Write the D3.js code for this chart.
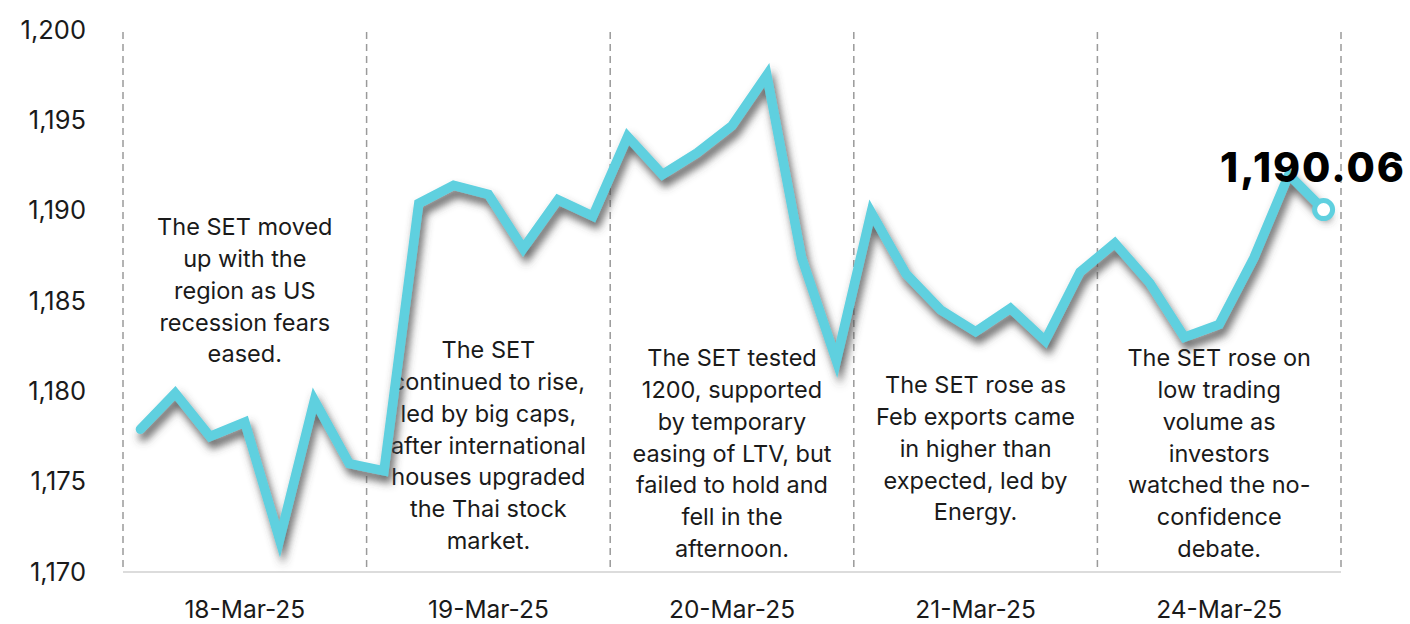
<!DOCTYPE html>
<html>
<head>
<meta charset="utf-8">
<script src="https://cdn.jsdelivr.net/npm/d3@7"></script>
<style>
  html, body { margin: 0; padding: 0; background: #fff; }
  svg { display: block; }
  text { font-family: Inter, "Noto Sans", sans-serif; fill: #1a1a1a; }
</style>
</head>
<body>
<svg id="chart" width="1410" height="624"></svg>
<script>
// ---- data ----
const days = ["18-Mar-25", "19-Mar-25", "20-Mar-25", "21-Mar-25", "24-Mar-25"];
const values = [
  1177.9, 1179.9, 1177.5, 1178.3, 1171.8, 1179.5, 1176.0,
  1175.6, 1190.4, 1191.4, 1190.9, 1187.9, 1190.6, 1189.7,
  1194.1, 1192.0, 1193.2, 1194.7, 1197.5, 1187.4, 1181.7,
  1189.9, 1186.5, 1184.5, 1183.3, 1184.6, 1182.8, 1186.6,
  1188.2, 1186.0, 1183.0, 1183.7, 1187.4, 1192.0, 1190.06
];
const yTicks = [1170, 1175, 1180, 1185, 1190, 1195, 1200];
const notes = [
  ["The SET moved", "up with the", "region as US", "recession fears", "eased."],
  ["The SET", "continued to rise,", "led by big caps,", "after international", "houses upgraded", "the Thai stock", "market."],
  ["The SET tested", "1200, supported", "by temporary", "easing of LTV, but", "failed to hold and", "fell in the", "afternoon."],
  ["The SET rose as", "Feb exports came", "in higher than", "expected, led by", "Energy."],
  ["The SET rose on", "low trading", "volume as", "investors", "watched the no-", "confidence", "debate."]
];
const lastLabel = "1,190.06";

// ---- layout ----
const M = { left: 123, right: 1341, top: 30, bottom: 572 };
const noteTop = [227, 350, 358, 385, 358];
const lineH = 31.8;

const svg = d3.select("#chart");

const xBand = d3.scaleBand().domain(days).range([M.left, M.right]);
const xIdx = d3.scaleLinear().domain([0, values.length]).range([M.left, M.right]);
const y = d3.scaleLinear().domain([1170, 1200]).range([M.bottom, M.top]);

// shadow filter
const defs = svg.append("defs");
const f = defs.append("filter").attr("id", "shadow")
  .attr("x", "-10%").attr("y", "-10%").attr("width", "120%").attr("height", "130%");
f.append("feDropShadow").attr("dx", 3).attr("dy", 7).attr("stdDeviation", 4.5)
  .attr("flood-color", "#4a4a4a").attr("flood-opacity", 0.85);

// baseline
svg.append("line")
  .attr("x1", M.left).attr("x2", M.right).attr("y1", y(1170)).attr("y2", y(1170))
  .attr("stroke", "#dcdcdc").attr("stroke-width", 2);

// dashed separators
const seps = days.map(d => xBand(d)).concat([M.right]);
svg.append("g").selectAll("line").data(seps).join("line")
  .attr("x1", d => d).attr("x2", d => d)
  .attr("y1", M.top + 2).attr("y2", y(1170))
  .attr("stroke", "#9a9a9a").attr("stroke-width", 1.5)
  .attr("stroke-dasharray", "7,5");

// y axis labels
const yAxis = d3.axisLeft(y).tickValues(yTicks).tickFormat(d3.format(",")).tickSize(0).tickPadding(0);
const yg = svg.append("g").attr("transform", `translate(${86},0)`).call(yAxis);
yg.select(".domain").remove();
yg.selectAll("text").attr("font-size", 25.5).attr("fill", "#1a1a1a")
  .style("font-family", "Inter, 'Noto Sans', sans-serif");

// x axis labels
const xAxis = d3.axisBottom(xBand).tickSize(0).tickPadding(0);
const xg = svg.append("g").attr("transform", `translate(0,${601})`).call(xAxis);
xg.select(".domain").remove();
xg.selectAll("text").attr("font-size", 24.5).attr("fill", "#1a1a1a")
  .style("font-family", "Inter, 'Noto Sans', sans-serif");

// notes
notes.forEach((lines, i) => {
  const cx = xBand(days[i]) + xBand.bandwidth() / 2;
  const t = svg.append("text").attr("text-anchor", "middle").attr("font-size", 23.5);
  lines.forEach((ln, j) => {
    t.append("tspan").attr("x", cx).attr("y", noteTop[i] + j * lineH)
      .attr("dy", "0.35em").text(ln);
  });
});

// line
const line = d3.line().x((d, i) => xIdx(i + 0.5)).y(d => y(d)).curve(d3.curveLinear);
svg.append("path").datum(values)
  .attr("d", line)
  .attr("fill", "none").attr("stroke", "#5fd0df").attr("stroke-width", 9.5)
  .attr("stroke-linejoin", "miter").attr("stroke-linecap", "round")
  .attr("filter", "url(#shadow)");

// end marker
const li = values.length - 1;
svg.append("circle")
  .attr("cx", xIdx(li + 0.5)).attr("cy", y(values[li])).attr("r", 9)
  .attr("fill", "#fff").attr("stroke", "#5fd0df").attr("stroke-width", 5);

svg.append("text")
  .attr("x", 1313).attr("y", 182)
  .attr("text-anchor", "middle").attr("font-size", 41).attr("font-weight", 800)
  .attr("letter-spacing", 2)
  .style("fill", "#000").text(lastLabel);
</script>
</body>
</html>
